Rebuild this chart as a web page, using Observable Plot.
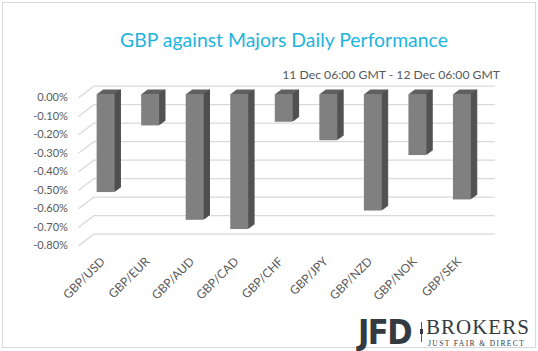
<!DOCTYPE html>
<html>
<head>
<meta charset="utf-8">
<script src="https://cdn.jsdelivr.net/npm/d3@7"></script>
<script src="https://cdn.jsdelivr.net/npm/@observablehq/plot@0.6"></script>
<style>
  html, body { margin: 0; padding: 0; background: #fff; }
  body { width: 538px; height: 351px; position: relative; overflow: hidden; font-family: Lato, "Open Sans", sans-serif; }
  #frame { position: absolute; left: 2px; top: 2px; width: 532px; height: 344px; border: 1px solid #d9d9d9; }
  #title { position: absolute; left: 0; width: 568px; top: 29.5px; font-size: 19.4px; line-height: 19.4px; text-align: center; color: #1db4e0; white-space: nowrap; }
  #subtitle { position: absolute; right: 38px; top: 69.4px; font-size: 12.2px; line-height: 12.2px; color: #595959; white-space: nowrap; }
  #chart { position: absolute; left: 0; top: 60px; }
  .logo { position: absolute; white-space: nowrap; color: #343a41; }
  #jfd { left: 358px; top: 315px; font-family: "DejaVu Sans Condensed", "DejaVu Sans", sans-serif; font-weight: bold; font-size: 34px; line-height: 34px; letter-spacing: -1.5px; }
  #brokers { left: 426px; top: 317.9px; font-family: "Liberation Serif", serif; font-size: 21px; line-height: 18px; letter-spacing: 1px; }
  #tag { left: 428px; top: 340px; font-family: "Liberation Serif", serif; font-size: 7.5px; line-height: 7.5px; letter-spacing: 1.4px; }
  #divider { position: absolute; left: 421px; top: 322px; width: 1px; height: 20px; background: #555; }
  #dot { position: absolute; left: 420px; top: 329px; width: 3px; height: 5px; background: #343a41; }
</style>
</head>
<body>
<div id="frame"></div>
<div id="title">GBP against Majors Daily Performance</div>
<div id="subtitle">11 Dec 06:00 GMT - 12 Dec 06:00 GMT</div>
<div id="chart"></div>
<div class="logo" id="jfd">JFD</div>
<div id="divider"></div><div id="dot"></div>
<div class="logo" id="brokers">BROKERS</div>
<div class="logo" id="tag">JUST FAIR &amp; DIRECT</div>
<script>
const categories = ["GBP/USD","GBP/EUR","GBP/AUD","GBP/CAD","GBP/CHF","GBP/JPY","GBP/NZD","GBP/NOK","GBP/SEK"];
const values = [-0.53, -0.17, -0.68, -0.73, -0.15, -0.25, -0.63, -0.33, -0.57];
const yTicks = [0, -0.1, -0.2, -0.3, -0.4, -0.5, -0.6, -0.7, -0.8];
const yTickLabels = ["0.00%","-0.10%","-0.20%","-0.30%","-0.40%","-0.50%","-0.60%","-0.70%","-0.80%"];

const rows = categories.map((c, i) => ({cat: c, i, value: values[i]}));
const grid = "#d9d9d9";
const depth = [1, 2, 3, 4, 5, 6];

const marks = [
  Plot.ruleY(yTicks, {y: d => d, x1: -0.274, x2: 8.74, dy: -8.3, stroke: grid, strokeWidth: 1.3}),
  Plot.link(yTicks, {x1: -0.617, x2: -0.274, y1: d => d, y2: d => d + 11.6 / 185, dy: 3.3, stroke: grid, strokeWidth: 1.3}),
  Plot.text(yTicks, {x: -0.858, y: d => d, text: (d, i) => yTickLabels[i], textAnchor: "end", dy: 3.3, fill: "#595959", fontSize: 11})
];
for (const k of depth) {
  marks.push(Plot.rect(rows, {x1: d => d.i - 0.2, x2: d => d.i + 0.2, y1: 0, y2: "value", dx: k, dy: -0.75 * k, fill: "#606060"}));
}
for (const k of depth) {
  marks.push(Plot.ruleX(rows, {x: d => d.i + 0.2, y1: 0, y2: "value", dx: k - 0.5, dy: -0.75 * k, stroke: "#4f4f4f", strokeWidth: 1}));
}
marks.push(Plot.rect(rows, {x1: d => d.i - 0.2, x2: d => d.i + 0.2, y1: 0, y2: "value", fill: "#808080"}));
marks.push(Plot.text(rows, {x: "i", y: -0.8, text: "cat", rotate: -45, textAnchor: "end", dx: -3, dy: 17, fill: "#595959", fontSize: 12}));

const chart = Plot.plot({
  width: 538,
  height: 250,
  x: {type: "linear", domain: [-1, 9], range: [61, 506.4], axis: null},
  y: {domain: [-0.8, 0], range: [182, 34], axis: null},
  style: {fontFamily: "Lato, 'Open Sans', sans-serif", background: "transparent"},
  marks
});
document.getElementById("chart").appendChild(chart);
</script>
</body>
</html>
